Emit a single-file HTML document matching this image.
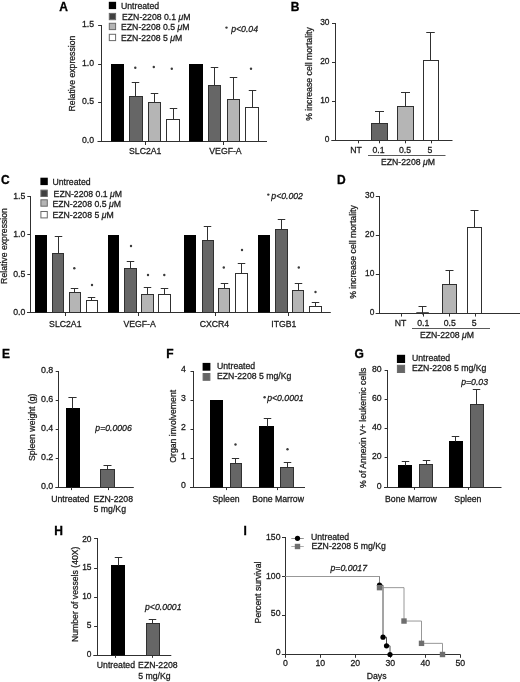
<!DOCTYPE html>
<html><head><meta charset="utf-8"><title>Figure</title>
<style>
html,body{margin:0;padding:0;background:#fff;}
body{width:520px;height:682px;overflow:hidden;font-family:"Liberation Sans",sans-serif;}
svg{display:block;font-family:"Liberation Sans",sans-serif;will-change:transform;filter:grayscale(1) blur(0.45px);}
</style></head><body>
<svg width="520" height="682" viewBox="0 0 520 682">
<rect width="520" height="682" fill="#fff"/>
<text x="59.2" y="11.4" text-anchor="start" font-size="12" font-weight="bold" fill="#000" stroke="#000" stroke-width="0.3">A</text>
<line x1="101.5" y1="25.0" x2="101.5" y2="142.0" stroke="#303030" stroke-width="1"/>
<line x1="98.1" y1="25.5" x2="101.5" y2="25.5" stroke="#303030" stroke-width="1"/>
<text x="94.0" y="27.2" text-anchor="end" font-size="8.7" fill="#1a1a1a" stroke="#1a1a1a" stroke-width="0.27">1.5</text>
<line x1="98.1" y1="64.5" x2="101.5" y2="64.5" stroke="#303030" stroke-width="1"/>
<text x="94.0" y="66.2" text-anchor="end" font-size="8.7" fill="#1a1a1a" stroke="#1a1a1a" stroke-width="0.27">1.0</text>
<line x1="98.1" y1="102.5" x2="101.5" y2="102.5" stroke="#303030" stroke-width="1"/>
<text x="94.0" y="104.2" text-anchor="end" font-size="8.7" fill="#1a1a1a" stroke="#1a1a1a" stroke-width="0.27">0.5</text>
<line x1="98.1" y1="141.5" x2="101.5" y2="141.5" stroke="#303030" stroke-width="1"/>
<text x="94.0" y="143.2" text-anchor="end" font-size="8.7" fill="#1a1a1a" stroke="#1a1a1a" stroke-width="0.27">0.0</text>
<line x1="97.5" y1="141.5" x2="267" y2="141.5" stroke="#303030" stroke-width="1"/>
<text x="75.4" y="73.5" text-anchor="middle" font-size="8.7" transform="rotate(-90 75.4 73.5)" fill="#1a1a1a" stroke="#1a1a1a" stroke-width="0.27">Relative expression</text>
<rect x="108.8" y="1.8" width="7.3" height="7.3" fill="#000"/>
<rect x="109.3" y="13.4" width="6.3" height="6.3" fill="#404040" stroke="#6a6a6a" stroke-width="1"/>
<rect x="109.3" y="23.3" width="6.3" height="6.3" fill="#b5b5b5" stroke="#6a6a6a" stroke-width="1"/>
<rect x="109.3" y="34.3" width="6.3" height="6.3" fill="#ffffff" stroke="#6a6a6a" stroke-width="1"/>
<text x="121" y="8.6" text-anchor="start" font-size="8.7" fill="#1a1a1a" stroke="#1a1a1a" stroke-width="0.27">Untreated</text>
<text x="122" y="20.3" text-anchor="start" font-size="8.7" fill="#1a1a1a" stroke="#1a1a1a" stroke-width="0.27">EZN-2208 0.1 <tspan font-style="italic">μ</tspan>M</text>
<text x="121" y="29.8" text-anchor="start" font-size="8.7" fill="#1a1a1a" stroke="#1a1a1a" stroke-width="0.27">EZN-2208 0.5 <tspan font-style="italic">μ</tspan>M</text>
<text x="121" y="41.2" text-anchor="start" font-size="8.7" fill="#1a1a1a" stroke="#1a1a1a" stroke-width="0.27">EZN-2208 5 <tspan font-style="italic">μ</tspan>M</text>
<circle cx="226.5" cy="27.6" r="1.2" fill="#3a3a3a"/>
<text x="231.2" y="32.1" text-anchor="start" font-size="8.7" font-style="italic" fill="#1a1a1a" stroke="#1a1a1a" stroke-width="0.27">p&lt;0.04</text>
<rect x="111" y="64" width="13" height="77.5" fill="#000"/>
<rect x="129.5" y="96.5" width="13.0" height="45.0" fill="#666666" stroke="#303030" stroke-width="1"/>
<line x1="135.5" y1="82.0" x2="135.5" y2="96.5" stroke="#303030" stroke-width="1"/>
<line x1="131.75" y1="82.5" x2="139.25" y2="82.5" stroke="#303030" stroke-width="1"/>
<rect x="148.5" y="102.5" width="12.0" height="39.0" fill="#b5b5b5" stroke="#303030" stroke-width="1"/>
<line x1="154.5" y1="93.0" x2="154.5" y2="102.5" stroke="#303030" stroke-width="1"/>
<line x1="150.75" y1="93.5" x2="158.25" y2="93.5" stroke="#303030" stroke-width="1"/>
<rect x="166.5" y="119.5" width="13.0" height="22.0" fill="#ffffff" stroke="#303030" stroke-width="1"/>
<line x1="173.5" y1="108.0" x2="173.5" y2="119.5" stroke="#303030" stroke-width="1"/>
<line x1="169.75" y1="108.5" x2="177.25" y2="108.5" stroke="#303030" stroke-width="1"/>
<rect x="189" y="64" width="14" height="77.5" fill="#000"/>
<rect x="208.5" y="85.5" width="12.0" height="56.0" fill="#666666" stroke="#303030" stroke-width="1"/>
<line x1="214.5" y1="67.0" x2="214.5" y2="85.5" stroke="#303030" stroke-width="1"/>
<line x1="210.75" y1="67.5" x2="218.25" y2="67.5" stroke="#303030" stroke-width="1"/>
<rect x="227.5" y="99.5" width="12.0" height="42.0" fill="#b5b5b5" stroke="#303030" stroke-width="1"/>
<line x1="233.5" y1="77.0" x2="233.5" y2="99.5" stroke="#303030" stroke-width="1"/>
<line x1="229.75" y1="77.5" x2="237.25" y2="77.5" stroke="#303030" stroke-width="1"/>
<rect x="245.5" y="107.5" width="13.0" height="34.0" fill="#ffffff" stroke="#303030" stroke-width="1"/>
<line x1="252.5" y1="90.0" x2="252.5" y2="107.5" stroke="#303030" stroke-width="1"/>
<line x1="248.75" y1="90.5" x2="256.25" y2="90.5" stroke="#303030" stroke-width="1"/>
<circle cx="135.3" cy="67.8" r="1.2" fill="#3a3a3a"/>
<circle cx="153.8" cy="67" r="1.2" fill="#3a3a3a"/>
<circle cx="171.8" cy="68.8" r="1.2" fill="#3a3a3a"/>
<circle cx="251" cy="68.8" r="1.2" fill="#3a3a3a"/>
<line x1="145.5" y1="141.5" x2="145.5" y2="145.0" stroke="#303030" stroke-width="1"/>
<line x1="223.5" y1="141.5" x2="223.5" y2="145.0" stroke="#303030" stroke-width="1"/>
<text x="145.2" y="153.6" text-anchor="middle" font-size="8.7" fill="#1a1a1a" stroke="#1a1a1a" stroke-width="0.27">SLC2A1</text>
<text x="225.5" y="153.6" text-anchor="middle" font-size="8.7" fill="#1a1a1a" stroke="#1a1a1a" stroke-width="0.27">VEGF-A</text>
<text x="290.8" y="11.4" text-anchor="start" font-size="12" font-weight="bold" fill="#000" stroke="#000" stroke-width="0.3">B</text>
<line x1="335.5" y1="23.0" x2="335.5" y2="141.0" stroke="#303030" stroke-width="1"/>
<line x1="332.0" y1="23.5" x2="335.5" y2="23.5" stroke="#303030" stroke-width="1"/>
<text x="329.5" y="25.0" text-anchor="end" font-size="8.4" fill="#1a1a1a" stroke="#1a1a1a" stroke-width="0.27">30</text>
<line x1="332.0" y1="62.5" x2="335.5" y2="62.5" stroke="#303030" stroke-width="1"/>
<text x="329.5" y="64.0" text-anchor="end" font-size="8.4" fill="#1a1a1a" stroke="#1a1a1a" stroke-width="0.27">20</text>
<line x1="332.0" y1="101.5" x2="335.5" y2="101.5" stroke="#303030" stroke-width="1"/>
<text x="329.5" y="103.0" text-anchor="end" font-size="8.4" fill="#1a1a1a" stroke="#1a1a1a" stroke-width="0.27">10</text>
<line x1="332.0" y1="140.5" x2="335.5" y2="140.5" stroke="#303030" stroke-width="1"/>
<text x="329.5" y="142.0" text-anchor="end" font-size="8.4" fill="#1a1a1a" stroke="#1a1a1a" stroke-width="0.27">0</text>
<line x1="331.3" y1="140.5" x2="452.5" y2="140.5" stroke="#303030" stroke-width="1"/>
<text x="312.3" y="74" text-anchor="middle" font-size="8.7" transform="rotate(-90 312.3 74)" fill="#1a1a1a" stroke="#1a1a1a" stroke-width="0.27">% increase cell mortality</text>
<rect x="371.5" y="123.5" width="16.0" height="17.0" fill="#666666" stroke="#303030" stroke-width="1"/>
<line x1="379.5" y1="111.0" x2="379.5" y2="123.5" stroke="#303030" stroke-width="1"/>
<line x1="375.0" y1="111.5" x2="384.0" y2="111.5" stroke="#303030" stroke-width="1"/>
<rect x="397.5" y="106.5" width="16.0" height="34.0" fill="#b5b5b5" stroke="#303030" stroke-width="1"/>
<line x1="405.5" y1="92.0" x2="405.5" y2="106.5" stroke="#303030" stroke-width="1"/>
<line x1="401.0" y1="92.5" x2="410.0" y2="92.5" stroke="#303030" stroke-width="1"/>
<rect x="423.5" y="60.5" width="15.0" height="80.0" fill="#ffffff" stroke="#303030" stroke-width="1"/>
<line x1="430.5" y1="32.0" x2="430.5" y2="60.5" stroke="#303030" stroke-width="1"/>
<line x1="426.25" y1="32.5" x2="434.75" y2="32.5" stroke="#303030" stroke-width="1"/>
<line x1="358.5" y1="140.5" x2="358.5" y2="143.3" stroke="#303030" stroke-width="1"/>
<line x1="379.5" y1="140.5" x2="379.5" y2="143.3" stroke="#303030" stroke-width="1"/>
<line x1="405.5" y1="140.5" x2="405.5" y2="143.3" stroke="#303030" stroke-width="1"/>
<line x1="431.5" y1="140.5" x2="431.5" y2="143.3" stroke="#303030" stroke-width="1"/>
<text x="356" y="153.2" text-anchor="middle" font-size="8.7" fill="#1a1a1a" stroke="#1a1a1a" stroke-width="0.27">NT</text>
<text x="378.5" y="153.2" text-anchor="middle" font-size="8.7" fill="#1a1a1a" stroke="#1a1a1a" stroke-width="0.27">0.1</text>
<text x="405" y="153.2" text-anchor="middle" font-size="8.7" fill="#1a1a1a" stroke="#1a1a1a" stroke-width="0.27">0.5</text>
<text x="430" y="153.2" text-anchor="middle" font-size="8.7" fill="#1a1a1a" stroke="#1a1a1a" stroke-width="0.27">5</text>
<line x1="368" y1="155.5" x2="445.5" y2="155.5" stroke="#303030" stroke-width="0.8"/>
<text x="408" y="165.4" text-anchor="middle" font-size="8.7" fill="#1a1a1a" stroke="#1a1a1a" stroke-width="0.27">EZN-2208 <tspan font-style="italic">μ</tspan>M</text>
<text x="1.0" y="184.2" text-anchor="start" font-size="12" font-weight="bold" fill="#000" stroke="#000" stroke-width="0.3">C</text>
<line x1="30.5" y1="196.0" x2="30.5" y2="313.0" stroke="#303030" stroke-width="1"/>
<line x1="27.3" y1="196.5" x2="30.5" y2="196.5" stroke="#303030" stroke-width="1"/>
<text x="25.3" y="198.8" text-anchor="end" font-size="8.7" fill="#1a1a1a" stroke="#1a1a1a" stroke-width="0.27">1.5</text>
<line x1="27.3" y1="234.5" x2="30.5" y2="234.5" stroke="#303030" stroke-width="1"/>
<text x="25.3" y="236.8" text-anchor="end" font-size="8.7" fill="#1a1a1a" stroke="#1a1a1a" stroke-width="0.27">1.0</text>
<line x1="27.3" y1="274.5" x2="30.5" y2="274.5" stroke="#303030" stroke-width="1"/>
<text x="25.3" y="276.8" text-anchor="end" font-size="8.7" fill="#1a1a1a" stroke="#1a1a1a" stroke-width="0.27">0.5</text>
<line x1="27.3" y1="312.5" x2="30.5" y2="312.5" stroke="#303030" stroke-width="1"/>
<text x="25.3" y="314.8" text-anchor="end" font-size="8.7" fill="#1a1a1a" stroke="#1a1a1a" stroke-width="0.27">0.0</text>
<line x1="27" y1="312.5" x2="330.8" y2="312.5" stroke="#303030" stroke-width="1"/>
<text x="6.8" y="246" text-anchor="middle" font-size="8.7" transform="rotate(-90 6.8 246)" fill="#1a1a1a" stroke="#1a1a1a" stroke-width="0.27">Relative expression</text>
<rect x="40.4" y="177.7" width="7.4" height="7.4" fill="#000"/>
<rect x="40.9" y="190.1" width="6.4" height="6.4" fill="#404040" stroke="#6a6a6a" stroke-width="1"/>
<rect x="40.9" y="199.8" width="6.4" height="6.4" fill="#b5b5b5" stroke="#6a6a6a" stroke-width="1"/>
<rect x="40.9" y="211.5" width="6.4" height="6.4" fill="#ffffff" stroke="#6a6a6a" stroke-width="1"/>
<text x="52.4" y="184.9" text-anchor="start" font-size="8.7" fill="#1a1a1a" stroke="#1a1a1a" stroke-width="0.27">Untreated</text>
<text x="53.6" y="197.2" text-anchor="start" font-size="8.7" fill="#1a1a1a" stroke="#1a1a1a" stroke-width="0.27">EZN-2208 0.1 <tspan font-style="italic">μ</tspan>M</text>
<text x="52.4" y="206.6" text-anchor="start" font-size="8.7" fill="#1a1a1a" stroke="#1a1a1a" stroke-width="0.27">EZN-2208 0.5 <tspan font-style="italic">μ</tspan>M</text>
<text x="52.4" y="218.0" text-anchor="start" font-size="8.7" fill="#1a1a1a" stroke="#1a1a1a" stroke-width="0.27">EZN-2208 5 <tspan font-style="italic">μ</tspan>M</text>
<circle cx="268.3" cy="194.6" r="1.2" fill="#3a3a3a"/>
<text x="271.3" y="199.2" text-anchor="start" font-size="8.7" font-style="italic" fill="#1a1a1a" stroke="#1a1a1a" stroke-width="0.27">p&lt;0.002</text>
<rect x="35" y="235" width="12" height="77.5" fill="#000"/>
<rect x="52.5" y="253.5" width="11.0" height="59.0" fill="#666666" stroke="#303030" stroke-width="1"/>
<line x1="58.5" y1="236.0" x2="58.5" y2="253.5" stroke="#303030" stroke-width="1"/>
<line x1="54.75" y1="236.5" x2="62.25" y2="236.5" stroke="#303030" stroke-width="1"/>
<rect x="69.5" y="292.5" width="11.0" height="20.0" fill="#b5b5b5" stroke="#303030" stroke-width="1"/>
<line x1="74.5" y1="288.0" x2="74.5" y2="292.5" stroke="#303030" stroke-width="1"/>
<line x1="70.75" y1="288.5" x2="78.25" y2="288.5" stroke="#303030" stroke-width="1"/>
<rect x="86.5" y="300.5" width="11.0" height="12.0" fill="#ffffff" stroke="#303030" stroke-width="1"/>
<line x1="91.5" y1="297.0" x2="91.5" y2="300.5" stroke="#303030" stroke-width="1"/>
<line x1="87.75" y1="297.5" x2="95.25" y2="297.5" stroke="#303030" stroke-width="1"/>
<rect x="108" y="235" width="11" height="77.5" fill="#000"/>
<rect x="124.5" y="268.5" width="12.0" height="44.0" fill="#666666" stroke="#303030" stroke-width="1"/>
<line x1="130.5" y1="261.0" x2="130.5" y2="268.5" stroke="#303030" stroke-width="1"/>
<line x1="126.75" y1="261.5" x2="134.25" y2="261.5" stroke="#303030" stroke-width="1"/>
<rect x="141.5" y="294.5" width="12.0" height="18.0" fill="#b5b5b5" stroke="#303030" stroke-width="1"/>
<line x1="147.5" y1="287.0" x2="147.5" y2="294.5" stroke="#303030" stroke-width="1"/>
<line x1="143.75" y1="287.5" x2="151.25" y2="287.5" stroke="#303030" stroke-width="1"/>
<rect x="158.5" y="294.5" width="12.0" height="18.0" fill="#ffffff" stroke="#303030" stroke-width="1"/>
<line x1="164.5" y1="288.0" x2="164.5" y2="294.5" stroke="#303030" stroke-width="1"/>
<line x1="160.75" y1="288.5" x2="168.25" y2="288.5" stroke="#303030" stroke-width="1"/>
<rect x="184" y="235" width="12" height="77.5" fill="#000"/>
<rect x="202.5" y="240.5" width="11.0" height="72.0" fill="#666666" stroke="#303030" stroke-width="1"/>
<line x1="207.5" y1="226.0" x2="207.5" y2="240.5" stroke="#303030" stroke-width="1"/>
<line x1="203.75" y1="226.5" x2="211.25" y2="226.5" stroke="#303030" stroke-width="1"/>
<rect x="218.5" y="288.5" width="11.0" height="24.0" fill="#b5b5b5" stroke="#303030" stroke-width="1"/>
<line x1="224.5" y1="283.0" x2="224.5" y2="288.5" stroke="#303030" stroke-width="1"/>
<line x1="220.75" y1="283.5" x2="228.25" y2="283.5" stroke="#303030" stroke-width="1"/>
<rect x="235.5" y="273.5" width="12.0" height="39.0" fill="#ffffff" stroke="#303030" stroke-width="1"/>
<line x1="241.5" y1="263.0" x2="241.5" y2="273.5" stroke="#303030" stroke-width="1"/>
<line x1="237.75" y1="263.5" x2="245.25" y2="263.5" stroke="#303030" stroke-width="1"/>
<rect x="258" y="235" width="12" height="77.5" fill="#000"/>
<rect x="275.5" y="229.5" width="12.0" height="83.0" fill="#666666" stroke="#303030" stroke-width="1"/>
<line x1="281.5" y1="219.0" x2="281.5" y2="229.5" stroke="#303030" stroke-width="1"/>
<line x1="277.75" y1="219.5" x2="285.25" y2="219.5" stroke="#303030" stroke-width="1"/>
<rect x="292.5" y="290.5" width="11.0" height="22.0" fill="#b5b5b5" stroke="#303030" stroke-width="1"/>
<line x1="298.5" y1="283.0" x2="298.5" y2="290.5" stroke="#303030" stroke-width="1"/>
<line x1="294.75" y1="283.5" x2="302.25" y2="283.5" stroke="#303030" stroke-width="1"/>
<rect x="309.5" y="306.5" width="12.0" height="6.0" fill="#ffffff" stroke="#303030" stroke-width="1"/>
<line x1="315.5" y1="302.0" x2="315.5" y2="306.5" stroke="#303030" stroke-width="1"/>
<line x1="311.75" y1="302.5" x2="319.25" y2="302.5" stroke="#303030" stroke-width="1"/>
<circle cx="74.3" cy="268.3" r="1.2" fill="#3a3a3a"/>
<circle cx="92" cy="285" r="1.2" fill="#3a3a3a"/>
<circle cx="131" cy="246" r="1.2" fill="#3a3a3a"/>
<circle cx="148" cy="275" r="1.2" fill="#3a3a3a"/>
<circle cx="164.3" cy="275" r="1.2" fill="#3a3a3a"/>
<circle cx="223.8" cy="267.5" r="1.2" fill="#3a3a3a"/>
<circle cx="242" cy="250" r="1.2" fill="#3a3a3a"/>
<circle cx="298.8" cy="267.5" r="1.2" fill="#3a3a3a"/>
<circle cx="315.5" cy="292" r="1.2" fill="#3a3a3a"/>
<line x1="65.5" y1="312.5" x2="65.5" y2="316.0" stroke="#303030" stroke-width="1"/>
<line x1="138.5" y1="312.5" x2="138.5" y2="316.0" stroke="#303030" stroke-width="1"/>
<line x1="215.5" y1="312.5" x2="215.5" y2="316.0" stroke="#303030" stroke-width="1"/>
<line x1="288.5" y1="312.5" x2="288.5" y2="316.0" stroke="#303030" stroke-width="1"/>
<text x="65.3" y="327.4" text-anchor="middle" font-size="8.7" fill="#1a1a1a" stroke="#1a1a1a" stroke-width="0.27">SLC2A1</text>
<text x="139.6" y="327.4" text-anchor="middle" font-size="8.7" fill="#1a1a1a" stroke="#1a1a1a" stroke-width="0.27">VEGF-A</text>
<text x="214.4" y="327.4" text-anchor="middle" font-size="8.7" fill="#1a1a1a" stroke="#1a1a1a" stroke-width="0.27">CXCR4</text>
<text x="283.9" y="327.4" text-anchor="middle" font-size="8.7" fill="#1a1a1a" stroke="#1a1a1a" stroke-width="0.27">ITGB1</text>
<text x="337.0" y="183.8" text-anchor="start" font-size="12" font-weight="bold" fill="#000" stroke="#000" stroke-width="0.3">D</text>
<line x1="379.5" y1="196.0" x2="379.5" y2="314.0" stroke="#303030" stroke-width="1"/>
<line x1="375.8" y1="196.5" x2="379.5" y2="196.5" stroke="#303030" stroke-width="1"/>
<text x="374.4" y="197.8" text-anchor="end" font-size="8.4" fill="#1a1a1a" stroke="#1a1a1a" stroke-width="0.27">30</text>
<line x1="375.8" y1="235.5" x2="379.5" y2="235.5" stroke="#303030" stroke-width="1"/>
<text x="374.4" y="236.8" text-anchor="end" font-size="8.4" fill="#1a1a1a" stroke="#1a1a1a" stroke-width="0.27">20</text>
<line x1="375.8" y1="274.5" x2="379.5" y2="274.5" stroke="#303030" stroke-width="1"/>
<text x="374.4" y="275.8" text-anchor="end" font-size="8.4" fill="#1a1a1a" stroke="#1a1a1a" stroke-width="0.27">10</text>
<line x1="375.8" y1="313.5" x2="379.5" y2="313.5" stroke="#303030" stroke-width="1"/>
<text x="374.4" y="314.8" text-anchor="end" font-size="8.4" fill="#1a1a1a" stroke="#1a1a1a" stroke-width="0.27">0</text>
<line x1="375.8" y1="313.5" x2="520" y2="313.5" stroke="#303030" stroke-width="1"/>
<text x="356" y="252" text-anchor="middle" font-size="8.7" transform="rotate(-90 356 252)" fill="#1a1a1a" stroke="#1a1a1a" stroke-width="0.27">% increase cell mortality</text>
<line x1="401.5" y1="313.75" x2="401.5" y2="316.55" stroke="#303030" stroke-width="1"/>
<line x1="423.5" y1="313.75" x2="423.5" y2="316.55" stroke="#303030" stroke-width="1"/>
<line x1="449.5" y1="313.75" x2="449.5" y2="316.55" stroke="#303030" stroke-width="1"/>
<line x1="475.5" y1="313.75" x2="475.5" y2="316.55" stroke="#303030" stroke-width="1"/>
<line x1="416.3" y1="312.5" x2="428.8" y2="312.5" stroke="#555" stroke-width="1"/>
<line x1="422.5" y1="306.0" x2="422.5" y2="314.5" stroke="#303030" stroke-width="1"/>
<line x1="418.5" y1="306.5" x2="426.5" y2="306.5" stroke="#303030" stroke-width="1"/>
<rect x="442.5" y="284.5" width="14.0" height="29.0" fill="#b5b5b5" stroke="#303030" stroke-width="1"/>
<line x1="449.5" y1="270.0" x2="449.5" y2="284.5" stroke="#303030" stroke-width="1"/>
<line x1="445.5" y1="270.5" x2="453.5" y2="270.5" stroke="#303030" stroke-width="1"/>
<rect x="467.5" y="227.5" width="14.0" height="86.0" fill="#ffffff" stroke="#303030" stroke-width="1"/>
<line x1="474.5" y1="210.0" x2="474.5" y2="227.5" stroke="#303030" stroke-width="1"/>
<line x1="470.5" y1="210.5" x2="478.5" y2="210.5" stroke="#303030" stroke-width="1"/>
<text x="400.5" y="326.2" text-anchor="middle" font-size="8.7" fill="#1a1a1a" stroke="#1a1a1a" stroke-width="0.27">NT</text>
<text x="423.2" y="325.6" text-anchor="middle" font-size="8.7" fill="#1a1a1a" stroke="#1a1a1a" stroke-width="0.27">0.1</text>
<text x="449.8" y="325.6" text-anchor="middle" font-size="8.7" fill="#1a1a1a" stroke="#1a1a1a" stroke-width="0.27">0.5</text>
<text x="474.2" y="325.6" text-anchor="middle" font-size="8.7" fill="#1a1a1a" stroke="#1a1a1a" stroke-width="0.27">5</text>
<line x1="412" y1="328.5" x2="490" y2="328.5" stroke="#303030" stroke-width="0.8"/>
<text x="447" y="337.9" text-anchor="middle" font-size="8.7" fill="#1a1a1a" stroke="#1a1a1a" stroke-width="0.27">EZN-2208 <tspan font-style="italic">μ</tspan>M</text>
<text x="1.9" y="358.2" text-anchor="start" font-size="12" font-weight="bold" fill="#000" stroke="#000" stroke-width="0.3">E</text>
<line x1="58.5" y1="371.0" x2="58.5" y2="488.0" stroke="#303030" stroke-width="1"/>
<line x1="55.7" y1="371.5" x2="58.5" y2="371.5" stroke="#303030" stroke-width="1"/>
<text x="53.3" y="373.4" text-anchor="end" font-size="8.9" fill="#1a1a1a" stroke="#1a1a1a" stroke-width="0.27">0.8</text>
<line x1="55.7" y1="400.5" x2="58.5" y2="400.5" stroke="#303030" stroke-width="1"/>
<text x="53.3" y="402.4" text-anchor="end" font-size="8.9" fill="#1a1a1a" stroke="#1a1a1a" stroke-width="0.27">0.6</text>
<line x1="55.7" y1="429.5" x2="58.5" y2="429.5" stroke="#303030" stroke-width="1"/>
<text x="53.3" y="431.4" text-anchor="end" font-size="8.9" fill="#1a1a1a" stroke="#1a1a1a" stroke-width="0.27">0.4</text>
<line x1="55.7" y1="458.5" x2="58.5" y2="458.5" stroke="#303030" stroke-width="1"/>
<text x="53.3" y="460.4" text-anchor="end" font-size="8.9" fill="#1a1a1a" stroke="#1a1a1a" stroke-width="0.27">0.2</text>
<line x1="55.7" y1="487.5" x2="58.5" y2="487.5" stroke="#303030" stroke-width="1"/>
<text x="53.3" y="489.4" text-anchor="end" font-size="8.9" fill="#1a1a1a" stroke="#1a1a1a" stroke-width="0.27">0.0</text>
<line x1="55.4" y1="487.5" x2="133.8" y2="487.5" stroke="#303030" stroke-width="1"/>
<text x="35.0" y="427.3" text-anchor="middle" font-size="8.7" transform="rotate(-90 35.0 427.3)" fill="#1a1a1a" stroke="#1a1a1a" stroke-width="0.27">Spleen weight (g)</text>
<rect x="66" y="408" width="14" height="79.5" fill="#000"/>
<line x1="72.5" y1="397.0" x2="72.5" y2="408.5" stroke="#303030" stroke-width="1"/>
<line x1="68.4" y1="397.5" x2="76.6" y2="397.5" stroke="#303030" stroke-width="1"/>
<rect x="100.5" y="469.5" width="14.0" height="18.0" fill="#666666" stroke="#303030" stroke-width="1"/>
<line x1="107.5" y1="465.0" x2="107.5" y2="469.5" stroke="#303030" stroke-width="1"/>
<line x1="103.5" y1="465.5" x2="111.5" y2="465.5" stroke="#303030" stroke-width="1"/>
<line x1="71.5" y1="487.5" x2="71.5" y2="490.1" stroke="#303030" stroke-width="1"/>
<line x1="108.5" y1="487.5" x2="108.5" y2="490.1" stroke="#303030" stroke-width="1"/>
<text x="70.3" y="501.8" text-anchor="middle" font-size="8.7" fill="#1a1a1a" stroke="#1a1a1a" stroke-width="0.27">Untreated</text>
<text x="113.2" y="501.8" text-anchor="middle" font-size="8.7" fill="#1a1a1a" stroke="#1a1a1a" stroke-width="0.27">EZN-2208</text>
<text x="109.8" y="512.3" text-anchor="middle" font-size="8.7" fill="#1a1a1a" stroke="#1a1a1a" stroke-width="0.27">5 mg/Kg</text>
<text x="95.3" y="431.2" text-anchor="start" font-size="8.7" font-style="italic" fill="#1a1a1a" stroke="#1a1a1a" stroke-width="0.27">p=0.0006</text>
<text x="166.3" y="358.2" text-anchor="start" font-size="12" font-weight="bold" fill="#000" stroke="#000" stroke-width="0.3">F</text>
<line x1="193.5" y1="371.0" x2="193.5" y2="488.0" stroke="#303030" stroke-width="1"/>
<line x1="190.5" y1="371.5" x2="193.5" y2="371.5" stroke="#303030" stroke-width="1"/>
<text x="185.8" y="372.1" text-anchor="end" font-size="8.7" fill="#1a1a1a" stroke="#1a1a1a" stroke-width="0.27">4</text>
<line x1="190.5" y1="400.5" x2="193.5" y2="400.5" stroke="#303030" stroke-width="1"/>
<text x="185.8" y="401.1" text-anchor="end" font-size="8.7" fill="#1a1a1a" stroke="#1a1a1a" stroke-width="0.27">3</text>
<line x1="190.5" y1="429.5" x2="193.5" y2="429.5" stroke="#303030" stroke-width="1"/>
<text x="185.8" y="430.1" text-anchor="end" font-size="8.7" fill="#1a1a1a" stroke="#1a1a1a" stroke-width="0.27">2</text>
<line x1="190.5" y1="458.5" x2="193.5" y2="458.5" stroke="#303030" stroke-width="1"/>
<text x="185.8" y="459.1" text-anchor="end" font-size="8.7" fill="#1a1a1a" stroke="#1a1a1a" stroke-width="0.27">1</text>
<line x1="190.5" y1="487.5" x2="193.5" y2="487.5" stroke="#303030" stroke-width="1"/>
<text x="185.8" y="488.1" text-anchor="end" font-size="8.7" fill="#1a1a1a" stroke="#1a1a1a" stroke-width="0.27">0</text>
<line x1="190" y1="487.5" x2="305" y2="487.5" stroke="#303030" stroke-width="1"/>
<text x="176.5" y="426.3" text-anchor="middle" font-size="8.7" transform="rotate(-90 176.5 426.3)" fill="#1a1a1a" stroke="#1a1a1a" stroke-width="0.27">Organ involvement</text>
<rect x="202.6" y="362.9" width="7.8" height="7.8" fill="#000"/>
<rect x="203.1" y="373.5" width="6.8" height="6.8" fill="#666666" stroke="#6a6a6a" stroke-width="1"/>
<text x="217" y="368.9" text-anchor="start" font-size="8.7" fill="#1a1a1a" stroke="#1a1a1a" stroke-width="0.27">Untreated</text>
<text x="217" y="378.7" text-anchor="start" font-size="8.7" fill="#1a1a1a" stroke="#1a1a1a" stroke-width="0.27">EZN-2208 5 mg/Kg</text>
<rect x="210" y="400" width="13" height="87.5" fill="#000"/>
<rect x="230.5" y="463.5" width="11.0" height="24.0" fill="#666666" stroke="#303030" stroke-width="1"/>
<line x1="235.5" y1="458.0" x2="235.5" y2="463.5" stroke="#303030" stroke-width="1"/>
<line x1="231.85" y1="458.5" x2="239.15" y2="458.5" stroke="#303030" stroke-width="1"/>
<circle cx="235.5" cy="444.5" r="1.2" fill="#3a3a3a"/>
<rect x="259" y="426" width="15" height="61.5" fill="#000"/>
<line x1="267.5" y1="418.0" x2="267.5" y2="426.5" stroke="#303030" stroke-width="1"/>
<line x1="263.75" y1="418.5" x2="271.25" y2="418.5" stroke="#303030" stroke-width="1"/>
<rect x="280.5" y="467.5" width="13.0" height="20.0" fill="#666666" stroke="#303030" stroke-width="1"/>
<line x1="287.5" y1="462.0" x2="287.5" y2="467.5" stroke="#303030" stroke-width="1"/>
<line x1="283.75" y1="462.5" x2="291.25" y2="462.5" stroke="#303030" stroke-width="1"/>
<circle cx="287.5" cy="449.3" r="1.2" fill="#3a3a3a"/>
<line x1="226.5" y1="487.5" x2="226.5" y2="490.1" stroke="#303030" stroke-width="1"/>
<line x1="277.5" y1="487.5" x2="277.5" y2="490.1" stroke="#303030" stroke-width="1"/>
<text x="226.1" y="501.8" text-anchor="middle" font-size="8.7" fill="#1a1a1a" stroke="#1a1a1a" stroke-width="0.27">Spleen</text>
<text x="278.1" y="501.8" text-anchor="middle" font-size="8.7" fill="#1a1a1a" stroke="#1a1a1a" stroke-width="0.27">Bone Marrow</text>
<circle cx="264.6" cy="397.2" r="1.2" fill="#3a3a3a"/>
<text x="267.2" y="400.5" text-anchor="start" font-size="8.7" font-style="italic" fill="#1a1a1a" stroke="#1a1a1a" stroke-width="0.27">p&lt;0.0001</text>
<text x="354.5" y="358.3" text-anchor="start" font-size="12" font-weight="bold" fill="#000" stroke="#000" stroke-width="0.3">G</text>
<line x1="387.5" y1="370.0" x2="387.5" y2="488.0" stroke="#303030" stroke-width="1"/>
<line x1="384.6" y1="370.5" x2="387.5" y2="370.5" stroke="#303030" stroke-width="1"/>
<text x="381.7" y="372.0" text-anchor="end" font-size="8.7" fill="#1a1a1a" stroke="#1a1a1a" stroke-width="0.27">80</text>
<line x1="384.6" y1="399.5" x2="387.5" y2="399.5" stroke="#303030" stroke-width="1"/>
<text x="381.7" y="401.0" text-anchor="end" font-size="8.7" fill="#1a1a1a" stroke="#1a1a1a" stroke-width="0.27">60</text>
<line x1="384.6" y1="428.5" x2="387.5" y2="428.5" stroke="#303030" stroke-width="1"/>
<text x="381.7" y="430.0" text-anchor="end" font-size="8.7" fill="#1a1a1a" stroke="#1a1a1a" stroke-width="0.27">40</text>
<line x1="384.6" y1="457.5" x2="387.5" y2="457.5" stroke="#303030" stroke-width="1"/>
<text x="381.7" y="459.0" text-anchor="end" font-size="8.7" fill="#1a1a1a" stroke="#1a1a1a" stroke-width="0.27">20</text>
<line x1="384.6" y1="487.5" x2="387.5" y2="487.5" stroke="#303030" stroke-width="1"/>
<text x="381.7" y="489.0" text-anchor="end" font-size="8.7" fill="#1a1a1a" stroke="#1a1a1a" stroke-width="0.27">0</text>
<line x1="384" y1="487.5" x2="501.5" y2="487.5" stroke="#303030" stroke-width="1"/>
<text x="366.5" y="427.8" text-anchor="middle" font-size="8.7" transform="rotate(-90 366.5 427.8)" fill="#1a1a1a" stroke="#1a1a1a" stroke-width="0.27">% of Annexin V+ leukemic cells</text>
<rect x="396.9" y="354.8" width="8.2" height="8.2" fill="#000"/>
<rect x="397.4" y="365.3" width="7.2" height="7.2" fill="#666666" stroke="#6a6a6a" stroke-width="1"/>
<text x="412" y="361.2" text-anchor="start" font-size="8.7" fill="#1a1a1a" stroke="#1a1a1a" stroke-width="0.27">Untreated</text>
<text x="412" y="371.2" text-anchor="start" font-size="8.7" fill="#1a1a1a" stroke="#1a1a1a" stroke-width="0.27">EZN-2208 5 mg/Kg</text>
<text x="461.2" y="385" text-anchor="start" font-size="8.7" font-style="italic" fill="#1a1a1a" stroke="#1a1a1a" stroke-width="0.27">p=0.03</text>
<rect x="398" y="465" width="14" height="22.5" fill="#000"/>
<line x1="405.5" y1="461.0" x2="405.5" y2="465.5" stroke="#303030" stroke-width="1"/>
<line x1="401.75" y1="461.5" x2="409.25" y2="461.5" stroke="#303030" stroke-width="1"/>
<rect x="419.5" y="464.5" width="13.0" height="23.0" fill="#666666" stroke="#303030" stroke-width="1"/>
<line x1="426.5" y1="460.0" x2="426.5" y2="464.5" stroke="#303030" stroke-width="1"/>
<line x1="422.75" y1="460.5" x2="430.25" y2="460.5" stroke="#303030" stroke-width="1"/>
<rect x="449" y="441" width="14" height="46.5" fill="#000"/>
<line x1="455.5" y1="436.0" x2="455.5" y2="441.5" stroke="#303030" stroke-width="1"/>
<line x1="451.75" y1="436.5" x2="459.25" y2="436.5" stroke="#303030" stroke-width="1"/>
<rect x="470.5" y="404.5" width="13.0" height="83.0" fill="#666666" stroke="#303030" stroke-width="1"/>
<line x1="476.5" y1="389.0" x2="476.5" y2="404.5" stroke="#303030" stroke-width="1"/>
<line x1="472.75" y1="389.5" x2="480.25" y2="389.5" stroke="#303030" stroke-width="1"/>
<line x1="414.5" y1="487.2" x2="414.5" y2="489.8" stroke="#303030" stroke-width="1"/>
<line x1="468.5" y1="487.2" x2="468.5" y2="489.8" stroke="#303030" stroke-width="1"/>
<text x="410.9" y="501.8" text-anchor="middle" font-size="8.7" fill="#1a1a1a" stroke="#1a1a1a" stroke-width="0.27">Bone Marrow</text>
<text x="467.9" y="501.8" text-anchor="middle" font-size="8.7" fill="#1a1a1a" stroke="#1a1a1a" stroke-width="0.27">Spleen</text>
<text x="54.3" y="535" text-anchor="start" font-size="12" font-weight="bold" fill="#000" stroke="#000" stroke-width="0.3">H</text>
<line x1="97.5" y1="538.0" x2="97.5" y2="656.0" stroke="#303030" stroke-width="1"/>
<line x1="94.1" y1="538.5" x2="97.5" y2="538.5" stroke="#303030" stroke-width="1"/>
<text x="91.5" y="541.6" text-anchor="end" font-size="8.4" fill="#1a1a1a" stroke="#1a1a1a" stroke-width="0.27">20</text>
<line x1="94.1" y1="568.5" x2="97.5" y2="568.5" stroke="#303030" stroke-width="1"/>
<text x="91.5" y="570.3" text-anchor="end" font-size="8.4" fill="#1a1a1a" stroke="#1a1a1a" stroke-width="0.27">15</text>
<line x1="94.1" y1="597.5" x2="97.5" y2="597.5" stroke="#303030" stroke-width="1"/>
<text x="91.5" y="599.3" text-anchor="end" font-size="8.4" fill="#1a1a1a" stroke="#1a1a1a" stroke-width="0.27">10</text>
<line x1="94.1" y1="626.5" x2="97.5" y2="626.5" stroke="#303030" stroke-width="1"/>
<text x="91.5" y="628.3" text-anchor="end" font-size="8.4" fill="#1a1a1a" stroke="#1a1a1a" stroke-width="0.27">5</text>
<line x1="94.1" y1="655.5" x2="97.5" y2="655.5" stroke="#303030" stroke-width="1"/>
<text x="91.5" y="657.3" text-anchor="end" font-size="8.4" fill="#1a1a1a" stroke="#1a1a1a" stroke-width="0.27">0</text>
<line x1="93.3" y1="655.5" x2="171.3" y2="655.5" stroke="#303030" stroke-width="1"/>
<text x="77.9" y="594.3" text-anchor="middle" font-size="8.7" transform="rotate(-90 77.9 594.3)" fill="#1a1a1a" stroke="#1a1a1a" stroke-width="0.27">Number of vessels (40X)</text>
<rect x="111" y="565" width="14" height="90.5" fill="#000"/>
<line x1="118.5" y1="557.0" x2="118.5" y2="565.5" stroke="#303030" stroke-width="1"/>
<line x1="114.75" y1="557.5" x2="122.25" y2="557.5" stroke="#303030" stroke-width="1"/>
<rect x="146.5" y="623.5" width="13.0" height="32.0" fill="#666666" stroke="#303030" stroke-width="1"/>
<line x1="152.5" y1="619.0" x2="152.5" y2="623.5" stroke="#303030" stroke-width="1"/>
<line x1="148.75" y1="619.5" x2="156.25" y2="619.5" stroke="#303030" stroke-width="1"/>
<line x1="115.5" y1="655.25" x2="115.5" y2="657.85" stroke="#303030" stroke-width="1"/>
<line x1="152.5" y1="655.25" x2="152.5" y2="657.85" stroke="#303030" stroke-width="1"/>
<text x="115.9" y="668.2" text-anchor="middle" font-size="8.7" fill="#1a1a1a" stroke="#1a1a1a" stroke-width="0.27">Untreated</text>
<text x="157.9" y="668.2" text-anchor="middle" font-size="8.7" fill="#1a1a1a" stroke="#1a1a1a" stroke-width="0.27">EZN-2208</text>
<text x="154.4" y="679.3" text-anchor="middle" font-size="8.7" fill="#1a1a1a" stroke="#1a1a1a" stroke-width="0.27">5 mg/Kg</text>
<text x="145" y="610.4" text-anchor="start" font-size="8.7" font-style="italic" fill="#1a1a1a" stroke="#1a1a1a" stroke-width="0.27">p&lt;0.0001</text>
<text x="243.6" y="535" text-anchor="start" font-size="12" font-weight="bold" fill="#000" stroke="#000" stroke-width="0.3">I</text>
<line x1="285.5" y1="537.0" x2="285.5" y2="655.0" stroke="#303030" stroke-width="1"/>
<line x1="282.0" y1="537.5" x2="285.5" y2="537.5" stroke="#303030" stroke-width="1"/>
<text x="280.5" y="539.5" text-anchor="end" font-size="8.7" fill="#1a1a1a" stroke="#1a1a1a" stroke-width="0.27">150</text>
<line x1="282.0" y1="576.5" x2="285.5" y2="576.5" stroke="#303030" stroke-width="1"/>
<text x="280.5" y="578.5" text-anchor="end" font-size="8.7" fill="#1a1a1a" stroke="#1a1a1a" stroke-width="0.27">100</text>
<line x1="282.0" y1="615.5" x2="285.5" y2="615.5" stroke="#303030" stroke-width="1"/>
<text x="280.5" y="616.4" text-anchor="end" font-size="8.7" fill="#1a1a1a" stroke="#1a1a1a" stroke-width="0.27">50</text>
<line x1="282.0" y1="654.5" x2="285.5" y2="654.5" stroke="#303030" stroke-width="1"/>
<text x="280.5" y="655.4" text-anchor="end" font-size="8.7" fill="#1a1a1a" stroke="#1a1a1a" stroke-width="0.27">0</text>
<line x1="281.8" y1="654.5" x2="460.4" y2="654.5" stroke="#303030" stroke-width="1"/>
<text x="261" y="592.5" text-anchor="middle" font-size="8.7" transform="rotate(-90 261 592.5)" fill="#1a1a1a" stroke="#1a1a1a" stroke-width="0.27">Percent survival</text>
<line x1="285.5" y1="654.5" x2="285.5" y2="657.8" stroke="#303030" stroke-width="1"/>
<text x="285.3" y="666.3" text-anchor="middle" font-size="8.7" fill="#1a1a1a" stroke="#1a1a1a" stroke-width="0.27">0</text>
<line x1="320.5" y1="654.5" x2="320.5" y2="657.8" stroke="#303030" stroke-width="1"/>
<text x="320.3" y="666.3" text-anchor="middle" font-size="8.7" fill="#1a1a1a" stroke="#1a1a1a" stroke-width="0.27">10</text>
<line x1="355.5" y1="654.5" x2="355.5" y2="657.8" stroke="#303030" stroke-width="1"/>
<text x="355.3" y="666.3" text-anchor="middle" font-size="8.7" fill="#1a1a1a" stroke="#1a1a1a" stroke-width="0.27">20</text>
<line x1="390.5" y1="654.5" x2="390.5" y2="657.8" stroke="#303030" stroke-width="1"/>
<text x="390.3" y="666.3" text-anchor="middle" font-size="8.7" fill="#1a1a1a" stroke="#1a1a1a" stroke-width="0.27">30</text>
<line x1="425.5" y1="654.5" x2="425.5" y2="657.8" stroke="#303030" stroke-width="1"/>
<text x="425.3" y="666.3" text-anchor="middle" font-size="8.7" fill="#1a1a1a" stroke="#1a1a1a" stroke-width="0.27">40</text>
<line x1="460.5" y1="654.5" x2="460.5" y2="657.8" stroke="#303030" stroke-width="1"/>
<text x="460.3" y="666.3" text-anchor="middle" font-size="8.7" fill="#1a1a1a" stroke="#1a1a1a" stroke-width="0.27">50</text>
<text x="376.6" y="679.4" text-anchor="middle" font-size="8.7" fill="#1a1a1a" stroke="#1a1a1a" stroke-width="0.27">Days</text>
<line x1="291.3" y1="538.5" x2="303.8" y2="538.5" stroke="#777" stroke-width="0.8"/>
<line x1="291.3" y1="546.5" x2="303.8" y2="546.5" stroke="#999" stroke-width="0.8"/>
<circle cx="297.5" cy="538.3" r="2.6" fill="#000"/>
<rect x="294.8" y="543.8" width="5.4" height="5.4" fill="#6e6e6e"/>
<text x="311" y="540" text-anchor="start" font-size="8.7" fill="#1a1a1a" stroke="#1a1a1a" stroke-width="0.27">Untreated</text>
<text x="311.5" y="548.6" text-anchor="start" font-size="8.7" fill="#1a1a1a" stroke="#1a1a1a" stroke-width="0.27">EZN-2208 5 mg/Kg</text>
<text x="330.5" y="571.3" text-anchor="start" font-size="8.7" font-style="italic" fill="#1a1a1a" stroke="#1a1a1a" stroke-width="0.27">p=0.0017</text>
<polyline fill="none" stroke="#4a4a4a" stroke-width="1" points="379.5,576.5 379.5,585.16 383.0,585.16 383.0,637.18 386.5,637.18 386.5,645.84 390.0,645.84 390.0,654.5"/>
<polyline fill="none" stroke="#8c8c8c" stroke-width="0.9" points="285.0,576.5 379.5,576.5 379.5,587.65 404.0,587.65 404.0,621.04 421.5,621.04 421.5,643.35 442.5,643.35 442.5,654.5"/>
<circle cx="379.5" cy="585.16" r="2.6" fill="#000"/>
<circle cx="383.0" cy="637.18" r="2.6" fill="#000"/>
<circle cx="386.5" cy="645.84" r="2.6" fill="#000"/>
<circle cx="390.0" cy="654.5" r="2.6" fill="#000"/>
<rect x="376.8" y="584.9499999999999" width="5.4" height="5.4" fill="#6e6e6e"/>
<rect x="401.3" y="618.3399999999999" width="5.4" height="5.4" fill="#6e6e6e"/>
<rect x="418.8" y="640.65" width="5.4" height="5.4" fill="#6e6e6e"/>
<rect x="439.8" y="651.8" width="5.4" height="5.4" fill="#6e6e6e"/>
</svg>
</body></html>
